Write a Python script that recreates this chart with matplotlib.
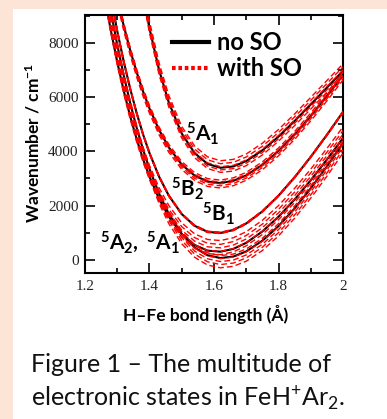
import matplotlib
matplotlib.use('Agg')
import matplotlib.pyplot as plt
from matplotlib.lines import Line2D
from matplotlib.patches import Rectangle
from matplotlib.ticker import MultipleLocator

# ---------------- data ----------------
r_bond = [1.24, 1.26, 1.28, 1.30, 1.32, 1.34, 1.36, 1.38, 1.40, 1.43, 1.46, 1.50,
          1.54, 1.58, 1.62, 1.66, 1.70, 1.75, 1.80, 1.85, 1.90, 1.95, 2.00]

e_5A1_lower = [12052, 10541, 9168, 7922, 6795, 5783, 4875, 4066, 3350, 2434, 1695, 955,
               457, 173, 71, 126, 315, 709, 1246, 1896, 2636, 3442, 4297]
e_5A2 = [11200, 9763, 8461, 7290, 6236, 5296, 4457, 3716, 3065, 2244, 1593, 956,
         551, 344, 305, 408, 632, 1050, 1592, 2228, 2936, 3694, 4490]
e_5B1 = [12595, 11065, 9679, 8432, 7310, 6310, 5415, 4626, 3933, 3060, 2366, 1689,
         1257, 1036, 995, 1105, 1343, 1788, 2365, 3043, 3797, 4604, 5450]
e_5B2 = [13351, 11990, 10752, 9633, 8628, 7725, 6921, 6207, 5577, 4781, 4143, 3513,
         3105, 2887, 2831, 2914, 3115, 3502, 4013, 4621, 5301, 6036, 6809]
e_5A1_upper = [25816, 22529, 19633, 17091, 14865, 12923, 11235, 9777, 8524, 6983, 5793, 4656,
               3933, 3537, 3394, 3444, 3642, 4037, 4543, 5117, 5726, 6346, 6960]

# spin-orbit components: shifts (cm-1) of the red curves from each black curve
so_5A1_lower = [-360, -240, -130, -20, 90]
so_5A2 = [-110, 10, 140, 270, 410]
so_5B1 = [-25, -8, 0, 8, 25]
so_5B2 = [-180, -100, -30, 40, 110]
so_5A1_upper = [-170, -80, 40, 150, 260]

states = [(e_5A1_lower, so_5A1_lower), (e_5A2, so_5A2), (e_5B1, so_5B1),
          (e_5B2, so_5B2), (e_5A1_upper, so_5A1_upper)]

x_ticks = [1.2, 1.4, 1.6, 1.8, 2.0]
x_tick_labels = ['1.2', '1.4', '1.6', '1.8', '2']
y_ticks = [0, 2000, 4000, 6000, 8000]
y_tick_labels = ['0', '2000', '4000', '6000', '8000']

legend_labels = ['no SO', 'with SO']
state_labels = [r'$\mathbf{{}^{5}A_{1}}$', r'$\mathbf{{}^{5}B_{2}}$',
                r'$\mathbf{{}^{5}B_{1}}$', r'$\mathbf{{}^{5}A_{2},\ {}^{5}A_{1}}$']
state_label_pos = [(1.514, 4160), (1.468, 2135), (1.564, 1215), (1.245, 185)]

# ---------------- style ----------------
plt.rcParams['lines.scale_dashes'] = False
plt.rcParams['mathtext.fontset'] = 'custom'
plt.rcParams['mathtext.rm'] = 'Lato'
plt.rcParams['mathtext.bf'] = 'Lato:bold'
plt.rcParams['mathtext.it'] = 'Lato:italic'

W, H = 387, 419
fig = plt.figure(figsize=(W / 100, H / 100), dpi=100)
fig.patch.set_facecolor('#FCE4D6')
fig.patches.append(Rectangle((13 / W, 0), 1 - 13 / W, (H - 9) / H,
                             transform=fig.transFigure, facecolor='white',
                             edgecolor='none', zorder=-10))

ax = fig.add_axes([85 / W, (H - 273) / H, (343 - 85) / W, (273 - 15) / H])
ax.set_zorder(1)
ax.set_facecolor('white')

red_dash = (0, (4.2, 2.2))
for e_vals, shifts in states:
    ax.plot(r_bond, e_vals, color='black', lw=1.5, zorder=2, solid_capstyle='butt')
    for s in shifts:
        ax.plot(r_bond, [v + s for v in e_vals], color='#FF0000', lw=1.0,
                linestyle=red_dash, zorder=3)

ax.set_xlim(1.2, 2.0)
ax.set_ylim(-480, 9020)

ax.set_xticks(x_ticks)
ax.set_xticklabels(x_tick_labels)
ax.set_yticks(y_ticks)
ax.set_yticklabels(y_tick_labels)
ax.xaxis.set_minor_locator(MultipleLocator(0.1))
ax.yaxis.set_minor_locator(MultipleLocator(1000))
ax.tick_params(which='both', direction='in', top=True, right=True, width=1.2,
               color='black')
ax.tick_params(which='major', length=7)
ax.tick_params(which='minor', length=3.8)
ax.tick_params(axis='y', pad=4.5)
ax.tick_params(axis='x', pad=5)
for lab in ax.get_xticklabels() + ax.get_yticklabels():
    lab.set_fontfamily('Liberation Serif')
    lab.set_fontsize(11)
    lab.set_color('#222222')
for sp in ax.spines.values():
    sp.set_linewidth(1.5)

for txt, (xx, yy) in zip(state_labels, state_label_pos):
    ax.text(xx, yy, txt, fontsize=15, ha='left', va='bottom', zorder=5)

handles = [Line2D([], [], color='black', lw=3.0),
           Line2D([], [], color='#FF0000', lw=3.0, linestyle=(0, (2.6, 2.0)))]
leg = ax.legend(handles, legend_labels, loc='upper left',
                bbox_to_anchor=(172 / W, 1 - 31 / H), bbox_transform=fig.transFigure,
                frameon=False, handlelength=1.55, handletextpad=0.35,
                labelspacing=0.12, borderpad=0, borderaxespad=0,
                prop={'family': 'Lato', 'weight': 'bold', 'size': 17})

fig.text(33 / W, 1 - 143 / H, r'Wavenumber / cm$^{\mathbf{-1}}$', rotation=90,
         ha='center', va='center', fontsize=12.5, fontweight='bold', family='Lato')
fig.text(206 / W, 1 - 315 / H, 'H\u2013Fe bond length (\u00c5)', ha='center',
         va='center', fontsize=12.5, fontweight='bold', family='Lato')

fig.text(31 / W, 1 - 372 / H, 'Figure 1 \u2013 The multitude of', ha='left',
         va='baseline', fontsize=18, family='Lato', color='#111111')
fig.text(31 / W, 1 - 406 / H, r'electronic states in FeH$^{+}$Ar$_{2}$.', ha='left',
         va='baseline', fontsize=18, family='Lato', color='#111111')

fig.savefig('out.png', dpi=100, facecolor=fig.get_facecolor())
